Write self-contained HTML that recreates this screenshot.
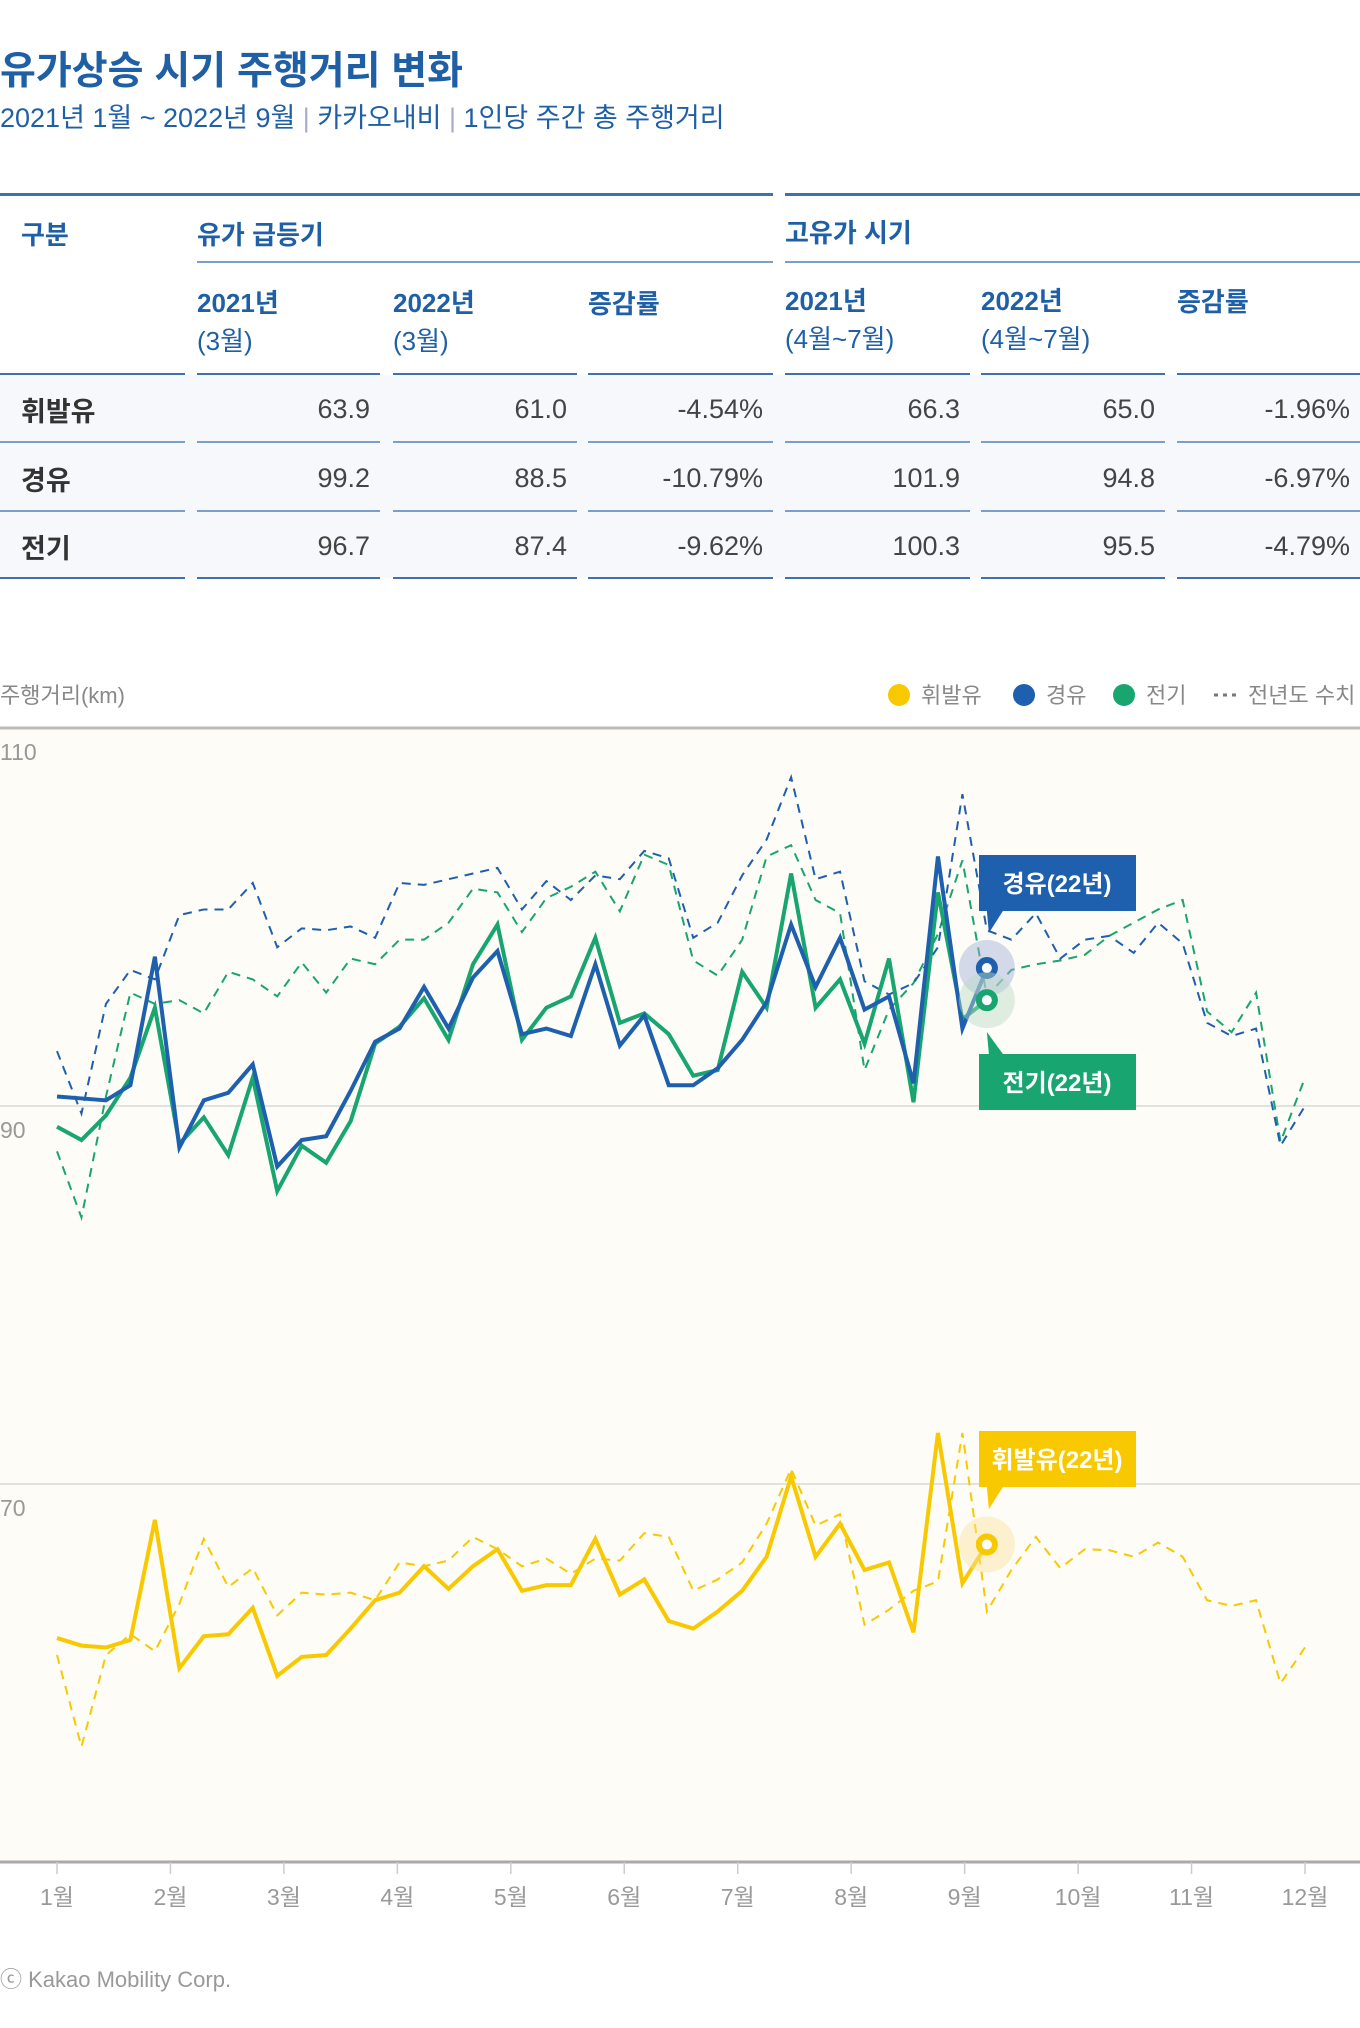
<!DOCTYPE html>
<html><head><meta charset="utf-8">
<style>
body{margin:0;width:1360px;height:2028px;background:#fff;position:relative;overflow:hidden;font-family:"Liberation Sans","Noto Sans CJK KR",sans-serif;}
.a{position:absolute;white-space:nowrap;}
.h{color:#1f5fa6;font-weight:bold;font-size:26px;}
.v{color:#444;font-size:27px;text-align:right;width:170px;}
.rl{color:#333;font-weight:bold;font-size:27px;}
.ln{position:absolute;height:2px;background:#3f72ad;}
.bg{position:absolute;left:0;width:1360px;background:#f6f8fb;}
.sub{color:#1f5fa6;font-weight:normal;font-size:26px;}
</style></head><body>
<div class="a" style="left:0;top:40px;font-size:39px;font-weight:bold;color:#1f5fa6;">유가상승 시기 주행거리 변화</div>
<div class="a" style="left:0;top:96px;font-size:27px;color:#1f5fa6;">2021년 1월 ~ 2022년 9월 <span style="color:#aac">|</span> 카카오내비 <span style="color:#aac">|</span> 1인당 주간 총 주행거리</div>

<div>
<div class="bg" style="top:375px;height:203px"></div>
<div class="ln" style="left:0;width:773px;top:193px;height:3px"></div>
<div class="ln" style="left:785px;width:575px;top:193px;height:3px"></div>
<div class="ln" style="left:197px;width:576px;top:261px;height:2px;background:#7a9fcc"></div>
<div class="ln" style="left:785px;width:575px;top:261px;height:2px;background:#7a9fcc"></div>
<div id="rowlines"></div>
<div class="a h" style="left:21px;top:215px">구분</div>
<div class="a h" style="left:197px;top:215px">유가 급등기</div>
<div class="a h" style="left:785px;top:213px">고유가 시기</div>
<div class="a h" style="left:197px;top:284px;line-height:38px">2021년<br><span class="sub">(3월)</span></div>
<div class="a h" style="left:393px;top:284px;line-height:38px">2022년<br><span class="sub">(3월)</span></div>
<div class="a h" style="left:588px;top:284px">증감률</div>
<div class="a h" style="left:785px;top:282px;line-height:38px">2021년<br><span class="sub">(4월~7월)</span></div>
<div class="a h" style="left:981px;top:282px;line-height:38px">2022년<br><span class="sub">(4월~7월)</span></div>
<div class="a h" style="left:1177px;top:282px">증감률</div>
<div id="rows"></div>
</div>

<svg id="chart" width="1360" height="2028" style="position:absolute;left:0;top:0" xmlns="http://www.w3.org/2000/svg"></svg>

<div class="a" style="left:0;top:1962px;font-size:22px;color:#999">ⓒ Kakao Mobility Corp.</div>

<script>
const rowNames=['휘발유','경유','전기'];
const tableVals=[['63.9','61.0','-4.54%','66.3','65.0','-1.96%'],['99.2','88.5','-10.79%','101.9','94.8','-6.97%'],['96.7','87.4','-9.62%','100.3','95.5','-4.79%']];
const colL=[0,197,393,588,785,981,1177], colW=[185,183,184,185,185,184,183];
const rowTop=[390,459,527], lineY=[373,441,510,577];
const rl=document.getElementById('rowlines');
lineY.forEach(yy=>{colL.forEach((xx,k)=>{const d=document.createElement('div');d.className='ln';d.style.cssText=`left:${xx}px;width:${colW[k]}px;top:${yy}px;height:2px;background:${yy==441||yy==510?'#7a9fcc':'#3f72ad'}`;

rl.appendChild(d);});});
const rows=document.getElementById('rows');
rowNames.forEach((n,r)=>{const l=document.createElement('div');l.className='a rl';l.style.left='21px';l.style.top=rowTop[r]+'px';l.textContent=n;

rows.appendChild(l);
tableVals[r].forEach((v,c)=>{const d=document.createElement('div');d.className='a v';d.style.left=(colL[c+1]+colW[c+1]-180)+'px';d.style.top=(rowTop[r]+4)+'px';d.textContent=v;

rows.appendChild(d);});});
</script>
<script>
const months=['1월','2월','3월','4월','5월','6월','7월','8월','9월','10월','11월','12월'];
const yTicks=[110,90,70];
const diesel22=[90.5,90.4,90.3,91.1,97.9,87.8,90.3,90.7,92.2,86.8,88.2,88.4,90.8,93.4,94.1,96.3,94.1,96.8,98.2,93.8,94.1,93.7,97.5,93.2,94.8,91.1,91.1,92.0,93.5,95.5,99.6,96.3,98.9,95.1,95.8,91.2,103.2,94.1,97.3];
const elec22=[88.9,88.2,89.5,91.5,95.2,88.0,89.4,87.4,91.5,85.5,87.9,87.0,89.2,93.3,94.2,95.7,93.5,97.5,99.6,93.5,95.2,95.8,98.9,94.4,94.9,93.8,91.6,91.9,97.1,95.2,102.3,95.2,96.7,93.3,97.8,90.2,101.3,94.6,95.6];
const gas22=[61.85,61.45,61.35,61.75,68.1,60.25,61.95,62.05,63.45,59.85,60.85,60.95,62.35,63.85,64.25,65.65,64.45,65.65,66.55,64.35,64.65,64.65,67.1,64.15,64.95,62.75,62.35,63.25,64.35,66.15,70.4,66.15,67.9,65.45,65.85,62.15,72.7,64.75,66.8];
const diesel21=[92.9,89.6,95.4,97.2,96.7,100.1,100.4,100.4,101.8,98.4,99.4,99.3,99.5,98.9,101.8,101.7,102.0,102.3,102.6,100.4,101.9,100.9,102.2,102.0,103.5,103.1,98.9,99.7,102.2,104.1,107.4,102.0,102.4,96.6,95.9,96.5,98.4,106.5,99.3,98.8,100.2,97.8,98.8,99.0,98.1,99.7,98.6,94.4,93.7,94.1,87.9,90.0];
const elec21=[87.6,84.1,90.5,96.0,95.4,95.6,94.9,97.1,96.7,95.8,97.6,96.0,97.8,97.5,98.8,98.8,99.7,101.5,101.3,99.2,101.0,101.6,102.4,100.3,103.3,102.75,97.7,96.9,98.8,103.2,103.8,100.9,100.2,91.9,95.1,96.5,99.1,103.0,95.8,97.2,97.5,97.7,98.0,99.0,99.7,100.4,100.9,95.0,93.9,96.0,88.1,91.5];
const gas21=[60.95,56.1,60.95,62.05,61.15,63.65,67.1,64.55,65.55,63.05,64.25,64.15,64.25,63.85,65.85,65.65,65.95,67.2,66.55,65.65,66.05,65.25,66.05,65.95,67.4,67.2,64.35,64.95,65.85,67.9,70.8,67.8,68.4,62.55,63.35,64.35,64.85,72.7,63.25,65.45,67.2,65.55,66.55,66.5,66.15,66.9,66.15,63.85,63.55,63.85,59.45,61.35];

const svg=document.getElementById('chart');const NS='http://www.w3.org/2000/svg';
const Y0=50,Y1=110,PT=728,PB=1862,XL=57,XR=1305,NW=51;
const sy=v=>PB-(v-Y0)/(Y1-Y0)*(PB-PT);
const sx=i=>XL+i*(XR-XL)/NW;
const mx=m=>XL+m*(XR-XL)/11;
function el(t,a,p){const e=document.createElementNS(NS,t);for(const k in a)e.setAttribute(k,a[k]);(p||svg).appendChild(e);return e;}
const BLUE='#1e5fae',GREEN='#18a570',YEL='#f8c900';
const bgRect=el('rect',{x:0,y:PT,width:1360,height:PB-PT,fill:'#fdfcf6'});


yTicks.forEach(t=>{
 if(t<Y1){const g=el('line',{x1:0,x2:1360,y1:sy(t),y2:sy(t),stroke:'#d9d9d6','stroke-width':1.5});
 
 }
 const tx=el('text',{x:0,y:sy(t)+32,'font-size':23,fill:'#999'});tx.textContent=t;
 
 
});
const topBorder=el('line',{x1:0,x2:1360,y1:PT,y2:PT,stroke:'#bbb','stroke-width':3});


const xAxis=el('line',{x1:0,x2:1360,y1:PB,y2:PB,stroke:'#aaa','stroke-width':3});


months.forEach((m,i)=>{
 const tk=el('line',{x1:mx(i),x2:mx(i),y1:PB,y2:PB+12,stroke:'#ccc','stroke-width':1.5});
 
 
 const t=el('text',{x:mx(i),y:PB+43,'font-size':23,fill:'#999','text-anchor':'middle'});t.textContent=m;
 
 
});
function line(arr,col,dash,w,name){
 const p=el('polyline',{points:arr.map((v,i)=>sx(i)+','+sy(v)).join(' '),fill:'none',stroke:col,'stroke-width':w,'stroke-linejoin':'miter'});
 if(dash)p.setAttribute('stroke-dasharray','9 7');
 
 
}
line(elec21,GREEN,true,2,'electric-2021-line');
line(diesel21,BLUE,true,2,'diesel-2021-line');
line(gas21,YEL,true,2,'gasoline-2021-line');
line(elec22,GREEN,false,4,'electric-2022-line');
line(diesel22,BLUE,false,4,'diesel-2022-line');
line(gas22,YEL,false,4,'gasoline-2022-line');
function marker(arr,col,halo,name){
 const i=arr.length-1;
 const h=el('circle',{cx:sx(i),cy:sy(arr[i]),r:28,fill:halo,opacity:0.45});
 
 
 const c=el('circle',{cx:sx(i),cy:sy(arr[i]),r:8,fill:'#fff',stroke:col,'stroke-width':6});
 
 
}
marker(diesel22,BLUE,'#9fb0da','diesel-marker');
marker(elec22,GREEN,'#b8dcc6','electric-marker');
marker(gas22,YEL,'#fbe3a0','gasoline-marker');
function callout(arr,col,label,by,up,name){
 const i=arr.length-1,px=sx(i);
 const g=el('g',{});
 
 
 el('rect',{x:979,y:by,width:157,height:56,fill:col},g);
 if(up) el('polygon',{points:`${px},${by+56} ${px+16},${by+56} ${px+2},${by+78}`,fill:col},g);
 else el('polygon',{points:`${px},${by-22} ${px+2},${by} ${px+16},${by}`,fill:col},g);
 const t=el('text',{x:1057,y:by+37,'font-size':24,'font-weight':'bold',fill:'#fff','text-anchor':'middle'},g);t.textContent=label;
}
callout(diesel22,BLUE,'경유(22년)',855,true,'diesel-callout');
callout(elec22,GREEN,'전기(22년)',1054,false,'electric-callout');
callout(gas22,YEL,'휘발유(22년)',1431,true,'gasoline-callout');
const yt=el('text',{x:0,y:703,'font-size':22,fill:'#888'});yt.textContent='주행거리(km)';


const legItems=[['휘발유',YEL,899],['경유',BLUE,1024],['전기',GREEN,1124]];
legItems.forEach(([n,c,lx])=>{
 const g=el('g',{});
 
 
 el('circle',{cx:lx,cy:695,r:11,fill:c},g);
 const t=el('text',{x:lx+22,y:703,'font-size':22,fill:'#888'},g);t.textContent=n;
});
const lg=el('g',{});


el('line',{x1:1214,x2:1240,y1:695,y2:695,stroke:'#777','stroke-width':3,'stroke-dasharray':'4 5'},lg);
const lt=el('text',{x:1248,y:703,'font-size':22,fill:'#888'},lg);lt.textContent='전년도 수치';
</script>
</body></html>
